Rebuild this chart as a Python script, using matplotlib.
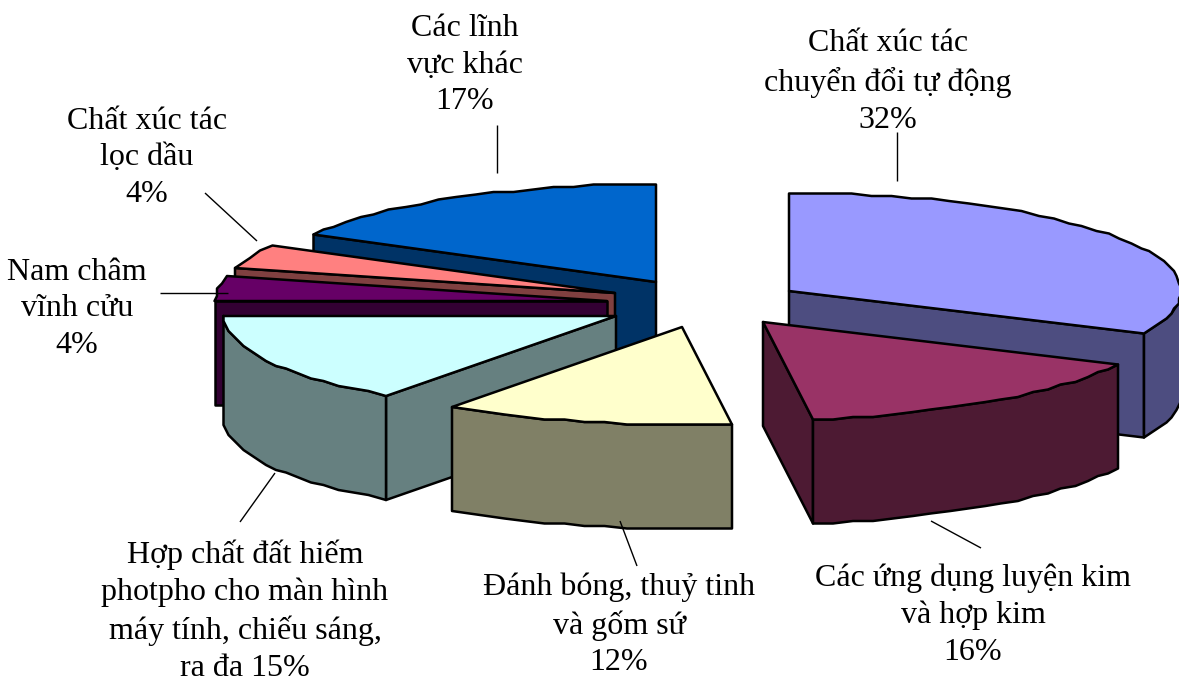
import numpy as np
import matplotlib
matplotlib.use("Agg")
import matplotlib.pyplot as plt
from matplotlib.patches import Polygon

# --- data ---
labels = ["Chất xúc tác\nchuyển đổi tự động\n32%",
          "Các ứng dụng luyện kim\nvà hợp kim\n16%",
          "Đánh bóng, thuỷ tinh\nvà gốm sứ\n12%",
          "Hợp chất đất hiếm\nphotpho cho màn hình\nmáy tính, chiếu sáng,\nra đa 15%",
          "Nam châm\nvĩnh cửu\n4%",
          "Chất xúc tác\nlọc dầu\n4%",
          "Các lĩnh\nvực khác\n17%"]
values = [32, 16, 12, 15, 4, 4, 17]

# --- styles / layout (pixel space) ---
top_colors = ["#9999FF", "#993366", "#FFFFCC", "#CCFFFF", "#660066", "#FF8080", "#0066CC"]
wall_colors = ["#4D4D80", "#4D1A33", "#808066", "#668080", "#330033", "#804040", "#003366"]
apexes = [(789, 291), (763, 322), (682, 327), (616, 316), (607, 301), (615, 293), (656, 282)]
draw_order = [6, 5, 4, 3, 0, 1, 2]
label_pos = [(888, 82), (973, 615), (619, 625), (245, 611), (77, 309), (147, 158), (465, 65)]
leaders = [((897, 132), (897, 181)), ((931, 521), (981, 548)), ((620, 521), (637, 566)),
           ((275, 473), (240, 522)), ((160, 293), (228, 293)), ((205, 193), (257, 241)),
           ((497, 125), (497, 173))]
RX, RY, DEPTH = 392, 98, 104
LW = 1.8
QUANT = 2.5
STEP = 3.0

fig = plt.figure(figsize=(11.79, 6.82), dpi=100)
ax = fig.add_axes([0, 0, 1, 1])
ax.set_xlim(0, 1179)
ax.set_ylim(682, 0)
ax.axis("off")


def rim(c, a0, a1):
    n = max(int(abs(a1 - a0) / STEP) + 1, 2)
    t = np.radians(np.linspace(a0, a1, n))
    off = np.column_stack([RX * np.sin(t), -RY * np.cos(t)])
    q = np.round(off / QUANT) * QUANT
    return c + q


def poly(pts, color, z):
    ax.add_patch(Polygon(pts, closed=True, facecolor=color, edgecolor="black",
                         linewidth=LW, joinstyle="round", zorder=z))


edges = np.concatenate([[0], np.cumsum(values)]) / sum(values) * 360
z = 1
for i in draw_order:
    a0, a1 = edges[i], edges[i + 1]
    c = np.array(apexes[i], float)
    down = np.array([0, DEPTH])
    # radial walls
    for a, normal in ((a0, a0 - 90), (a1, a1 + 90)):
        if np.cos(np.radians(normal - 180)) > 1e-6:
            e = rim(c, a, a)[0]
            poly([c, e, e + down, c + down], wall_colors[i], z)
            z += 1
    # outer wall (front half only)
    lo, hi = max(a0, 90), min(a1, 270)
    if hi > lo:
        r = rim(c, lo, hi)
        poly(np.vstack([r, (r + down)[::-1]]), wall_colors[i], z)
        z += 1
    # top face
    poly(np.vstack([[c], rim(c, a0, a1)]), top_colors[i], z)
    z += 1

for (p, q) in leaders:
    ax.plot([p[0], q[0]], [p[1], q[1]], color="black", lw=1.0, zorder=z, solid_capstyle="butt")

for txt, (x, y) in zip(labels, label_pos):
    ax.text(x, y, txt, ha="center", va="center", family="Liberation Serif",
            fontsize=23, linespacing=1.35, color="black", zorder=z + 1)

fig.savefig("out.png", dpi=100)
